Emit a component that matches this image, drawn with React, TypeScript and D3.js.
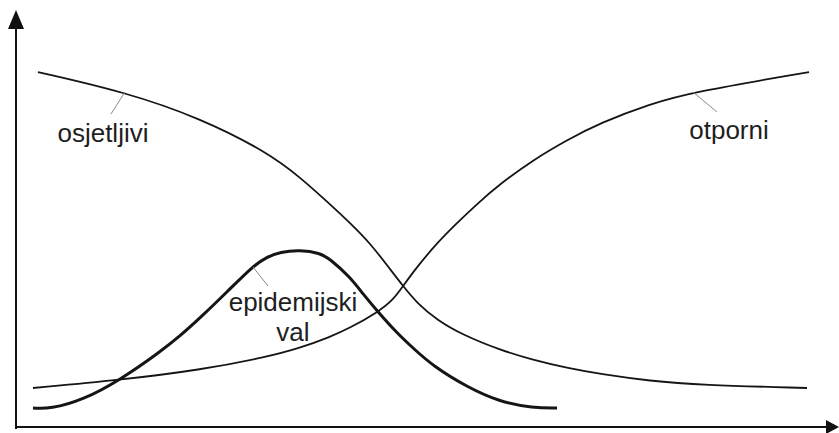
import React, { useEffect, useRef } from 'react';
import * as d3 from 'd3';

const WIDTH = 839;
const HEIGHT = 433;

// time on x (0-100), share of the population on y (0-100)
const susceptibleT = [2.68, 13.29, 22.44, 30.61, 34.63, 38.66, 40.73, 43.17, 45.61, 47.2, 48.9, 51.34, 54.51, 59.02, 63.05, 67.2, 71.22, 77.32, 83.41, 96.46];
const susceptibleV = [93.68, 88.42, 81.58, 72.63, 66.05, 58.16, 53.95, 48.68, 41.84, 37.37, 32.89, 28.42, 24.47, 20.53, 17.89, 15.79, 14.21, 12.37, 11.32, 10.53];

const resistantT = [2.07, 12.68, 22.44, 30.61, 34.63, 38.29, 40.73, 44.15, 45.98, 47.2, 48.9, 51.34, 53.78, 56.22, 59.02, 63.05, 67.2, 71.22, 77.32, 82.56, 96.71];
const resistantV = [10.53, 12.63, 15.26, 18.68, 21.05, 23.95, 26.32, 30.53, 33.68, 37.37, 42.37, 48.68, 53.95, 58.95, 64.21, 70.53, 75.79, 80.26, 85.26, 88.42, 93.68];

const waveT = [2.07, 4.15, 8.17, 12.68, 17.56, 20.0, 22.44, 25.73, 28.9, 30.61, 32.2, 34.63, 37.07, 38.29, 40.73, 42.32, 44.15, 46.46, 48.41, 50.85, 55.0, 59.02, 63.05, 65.98];
const waveV = [5.26, 5.0, 7.37, 12.63, 20.0, 24.21, 28.95, 35.79, 42.63, 45.0, 46.32, 46.84, 46.05, 44.47, 39.74, 35.26, 30.53, 25.0, 21.05, 16.32, 10.79, 6.84, 5.26, 5.26];

const labelNames = ['osjetljivi', 'otporni', 'epidemijski', 'val'];
// where each leader line touches its curve (index into the curve's arrays)
const susceptibleLabelAt = 1;
const resistantLabelAt = 19;
const waveLabelAt = 8;

const zip = (ts: number[], vs: number[]) => ts.map((t, i) => [t, vs[i]] as [number, number]);

export default function App() {
  const svgRef = useRef<SVGSVGElement>(null);

  useEffect(() => {
    const svg = d3.select(svgRef.current);
    svg.selectAll('*').remove();

    const x = d3.scaleLinear().domain([0, 100]).range([16, 836]);
    const y = d3.scaleLinear().domain([0, 100]).range([428, 48]);

    // basis spline smooths out the small reading errors between points
    const line = d3.line<[number, number]>()
      .x((d) => x(d[0]))
      .y((d) => y(d[1]))
      .curve(d3.curveBasis);

    // axes with arrow heads
    const x0 = x(0);
    const y0 = y(0);
    svg.append('line')
      .attr('x1', x0).attr('y1', y0 + 1)
      .attr('x2', x0).attr('y2', 20)
      .attr('stroke', '#111').attr('stroke-width', 2);
    svg.append('path')
      .attr('d', `M${x0},10 L${x0 - 8},29 L${x0 + 8},29 Z`)
      .attr('fill', '#111');
    svg.append('line')
      .attr('x1', x0 - 1).attr('y1', y0 - 1)
      .attr('x2', 830).attr('y2', y0 - 1)
      .attr('stroke', '#111').attr('stroke-width', 2);
    svg.append('path')
      .attr('d', `M${WIDTH},${y0 - 1} L${826},${y0 - 8} L${826},${y0 + 6} Z`)
      .attr('fill', '#111');

    const curves = [
      { data: zip(susceptibleT, susceptibleV), width: 1.8 },
      { data: zip(resistantT, resistantV), width: 1.8 },
      { data: zip(waveT, waveV), width: 3 },
    ];
    svg.selectAll('path.curve')
      .data(curves)
      .enter()
      .append('path')
      .attr('class', 'curve')
      .attr('d', (d) => line(d.data))
      .attr('fill', 'none')
      .attr('stroke', '#151515')
      .attr('stroke-width', (d) => d.width);

    // leader lines
    const sx = x(susceptibleT[susceptibleLabelAt]);
    const sy = y(susceptibleV[susceptibleLabelAt]);
    const rx = x(resistantT[resistantLabelAt]);
    const ry = y(resistantV[resistantLabelAt]);
    const wx = x(waveT[waveLabelAt]);
    const wy = y(waveV[waveLabelAt]);
    const leaders = [
      [sx, sy, sx - 14, sy + 22],
      [rx, ry, rx + 24, ry + 20],
      [wx, wy + 1, wx + 15, wy + 20],
    ];
    svg.selectAll('line.leader')
      .data(leaders)
      .enter()
      .append('line')
      .attr('class', 'leader')
      .attr('x1', (d) => d[0]).attr('y1', (d) => d[1])
      .attr('x2', (d) => d[2]).attr('y2', (d) => d[3])
      .attr('stroke', '#8a8a8a')
      .attr('stroke-width', 1);

    const textPos = [
      [sx - 22, sy + 50],
      [rx + 36, ry + 47],
      [wx + 40, wy + 45],
      [wx + 40, wy + 75],
    ];
    svg.selectAll('text.label')
      .data(labelNames)
      .enter()
      .append('text')
      .attr('class', 'label')
      .attr('x', (d, i) => textPos[i][0])
      .attr('y', (d, i) => textPos[i][1])
      .attr('text-anchor', 'middle')
      .attr('font-family', '"Liberation Sans", Arial, sans-serif')
      .attr('font-size', 26)
      .attr('fill', '#1e1e1e')
      .text((d) => d);
  }, []);

  return (
    <svg
      ref={svgRef}
      width={WIDTH}
      height={HEIGHT}
      style={{ position: 'absolute', left: 0, top: 0, background: '#fff' }}
    />
  );
}
